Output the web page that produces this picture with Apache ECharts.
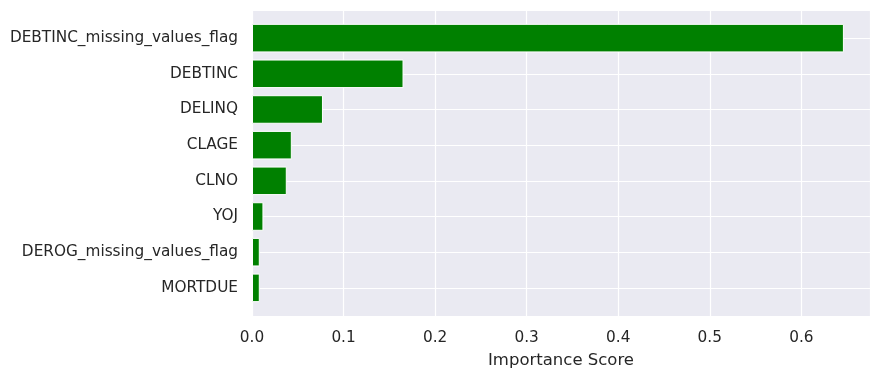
<!DOCTYPE html>
<html>
<head>
<meta charset="utf-8">
<script src="https://cdn.jsdelivr.net/npm/echarts@6/dist/echarts.min.js"></script>
<style>
html,body{margin:0;padding:0;background:#fff;}
#chart{width:881px;height:379px;}
</style>
</head>
<body>
<div id="chart"></div>
<script>
const categories = ['DEBTINC_missing_values_flag','DEBTINC','DELINQ','CLAGE','CLNO','YOJ','DEROG_missing_values_flag','MORTDUE'];
const importance = [0.6465, 0.1655, 0.0775, 0.0435, 0.038, 0.0125, 0.0085, 0.0085];
const xTicks = [0, 0.1, 0.2, 0.3, 0.4, 0.5, 0.6];

const font = 'DejaVu Sans';
const txt = '#262626';
const chart = echarts.init(document.getElementById('chart'), null, {renderer:'canvas'});
const option = {
  animation: false,
  backgroundColor: '#ffffff',
  grid: [
    {left: 252, right: 11, top: 10, bottom: 63, show: true, backgroundColor: '#EAEAF2', borderWidth: 0, containLabel: false},
    {left: 252, right: 11, top: 20.3, bottom: 73.3, show: false, containLabel: false}
  ],
  xAxis: [
    {
      type: 'value', gridIndex: 0, min: 0, max: 0.675, interval: 0.1,
      axisLine: {show: false}, axisTick: {show: false},
      splitLine: {show: true, lineStyle: {color: '#ffffff', width: 1.2}},
      axisLabel: {
        color: txt, fontFamily: font, fontSize: 15.3, margin: 15,
        formatter: v => { const t = xTicks.find(x => Math.abs(x - v) < 1e-9); return t === undefined ? '' : t.toFixed(1); }
      },
      name: 'Importance Score', nameLocation: 'middle', nameGap: 36,
      nameTextStyle: {color: txt, fontFamily: font, fontSize: 16.5}
    },
    {
      type: 'value', gridIndex: 1, min: 0, max: 0.675, show: false
    }
  ],
  yAxis: [
    {
      type: 'value', gridIndex: 0, min: -0.79, max: 7.79, inverse: true, splitNumber: 10,
      axisLine: {show: false}, axisTick: {show: false}, axisLabel: {show: false},
      splitLine: {show: true, lineStyle: {color: '#ffffff', width: 1.2}}
    },
    {
      type: 'category', gridIndex: 1, data: categories, inverse: true,
      axisLine: {show: false}, axisTick: {show: false}, splitLine: {show: false},
      axisLabel: {color: txt, fontFamily: font, fontSize: 15.3, margin: 14, padding: [4, 0, 0, 0]}
    }
  ],
  series: [
    {
      type: 'bar', xAxisIndex: 1, yAxisIndex: 1, data: importance,
      barCategoryGap: '20%',
      itemStyle: {color: '#008000', borderColor: '#ffffff', borderWidth: 1}
    }
  ]
};
chart.setOption(option);
</script>
</body>
</html>
